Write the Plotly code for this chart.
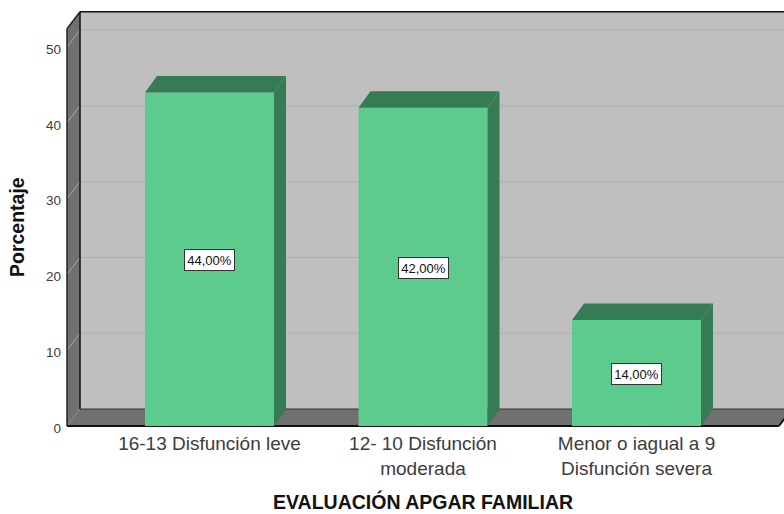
import plotly.graph_objects as go

categories = ["16-13 Disfunción leve", "12- 10 Disfunción<br>moderada", "Menor o iagual a 9<br>Disfunción severa"]
values = [44, 42, 14]
y_ticks = [0, 10, 20, 30, 40, 50]
x_title = "EVALUACIÓN APGAR FAMILIAR"
y_title = "Porcentaje"

W, H = 784, 514
PX_X, PX_Y = 213.5, 7.58      # pixels per category / per percentage point
L, T, B = 65, 10, 84
BASE_PX = 426
C0_PX = 209.5
BAR_W = 129 / PX_X
WALL_DX, WALL_DY = 13 / PX_X, 17 / PX_Y
BAR_DX, BAR_DY = 12 / PX_X, 16.5 / PX_Y
X0, X1 = -0.6674, 2.667
XLOW, XHIGH = (L - C0_PX) / PX_X, (W - C0_PX) / PX_X
YLOW, YHIGH = -(H - B - BASE_PX) / PX_Y, (BASE_PX - T) / PX_Y
YTOP = 52.4

WALL_BACK = "#BFBFBF"
WALL_DARK = "#707070"
GRID_BACK = "#B0B0B0"
GRID_SIDE = "#A6A6A6"
BAR_FRONT = "#5CCB8D"
BAR_SIDE = "#377B54"
TEXT_GREY = "#3C3C3C"


def poly(points, color, line=None, width=0):
    path = "M " + " L ".join(f"{x},{y}" for x, y in points) + " Z"
    return dict(type="path", path=path, xref="x", yref="y", layer="below", fillcolor=color,
                line=dict(color=line or color, width=width))


def seg(x0, y0, x1, y1, color, width=1):
    return dict(type="line", x0=x0, y0=y0, x1=x1, y1=y1, xref="x", yref="y", layer="below",
                line=dict(color=color, width=width))


shapes = [
    poly([(X0 + WALL_DX, WALL_DY), (XHIGH + 0.1, WALL_DY), (XHIGH + 0.1, YTOP + WALL_DY), (X0 + WALL_DX, YTOP + WALL_DY)], WALL_BACK),
    poly([(X0, 0), (X0 + WALL_DX, WALL_DY), (X0 + WALL_DX, YTOP + WALL_DY), (X0, YTOP)], WALL_DARK),
    poly([(X0, 0), (X1, 0), (X1 + WALL_DX, WALL_DY), (X0 + WALL_DX, WALL_DY)], WALL_DARK),
]
for t in y_ticks[1:]:
    shapes.append(seg(X0 + WALL_DX, t + WALL_DY, XHIGH + 0.1, t + WALL_DY, GRID_BACK))
    shapes.append(seg(X0, t, X0 + WALL_DX, t + WALL_DY, GRID_SIDE))
shapes += [
    seg(X0 + WALL_DX, WALL_DY, X0 + WALL_DX, YTOP + WALL_DY, "#111111", 1.5),
    seg(X0 + WALL_DX, YTOP + WALL_DY, XHIGH + 0.1, YTOP + WALL_DY, "#111111", 1.5),
    seg(X0 + WALL_DX, WALL_DY, XHIGH + 0.1, WALL_DY, "#333333", 1),
    seg(X0, 0, X0, YTOP, "#222222", 1.5),
    seg(X0, YTOP, X0 + WALL_DX, YTOP + WALL_DY, "#222222", 1.5),
    seg(X0, 0, X1, 0, "#111111", 2),
    seg(X1, 0, X1 + WALL_DX, WALL_DY, "#111111", 2),
]

fig = go.Figure()
xs = list(range(len(values)))
fig.add_trace(go.Bar(x=xs, y=values, width=BAR_W, marker=dict(color=BAR_FRONT, line=dict(width=0)),
                     showlegend=False, hoverinfo="skip"))

for i, v in zip(xs, values):
    left, right = i - BAR_W / 2, i + BAR_W / 2
    fig.add_trace(go.Scatter(
        x=[right, right + BAR_DX, right + BAR_DX, right, right],
        y=[0, BAR_DY, v + BAR_DY, v, 0],
        mode="lines", fill="toself", fillcolor=BAR_SIDE, line=dict(width=0),
        showlegend=False, hoverinfo="skip"))
    fig.add_trace(go.Scatter(
        x=[left, left + BAR_DX, right + BAR_DX, right, left],
        y=[v, v + BAR_DY, v + BAR_DY, v, v],
        mode="lines", fill="toself", fillcolor=BAR_SIDE, line=dict(width=0),
        showlegend=False, hoverinfo="skip"))

annotations = [
    dict(x=i, y=v / 2, xref="x", yref="y", yshift=-1, text=f"{v:.2f}".replace(".", ",") + "%", showarrow=False,
         font=dict(family="Liberation Sans", size=13, color="#111111"), width=47, height=18,
         bgcolor="#FFFFFF", bordercolor="#333333", borderwidth=1, borderpad=1)
    for i, v in zip(xs, values)
]
plot_w, plot_h = W - L, H - T - B
annotations += [
    dict(x=(423 - L) / plot_w, y=(H - B - 501.5) / plot_h, xref="paper", yref="paper", text=f"<b>{x_title}</b>",
         showarrow=False, font=dict(family="Liberation Sans", size=19.5, color="#111111"),
         xanchor="center", yanchor="middle"),
    dict(x=(17 - L) / plot_w, y=(H - B - 227) / plot_h, xref="paper", yref="paper", text=f"<b>{y_title}</b>",
         showarrow=False, textangle=-90, font=dict(family="Liberation Sans", size=19.5, color="#111111"),
         xanchor="center", yanchor="middle"),
]

fig.update_layout(
    width=W, height=H, margin=dict(l=L, r=0, t=T, b=B, pad=0, autoexpand=False),
    paper_bgcolor="#FFFFFF", plot_bgcolor="#FFFFFF", showlegend=False,
    shapes=shapes, annotations=annotations,
    xaxis=dict(range=[XLOW, XHIGH], tickmode="array", tickvals=xs, ticktext=categories, showgrid=False,
               zeroline=False, showline=False, ticks="", tickfont=dict(family="Liberation Sans", size=19, color=TEXT_GREY)),
    yaxis=dict(range=[YLOW, YHIGH], tickmode="array", tickvals=y_ticks, showgrid=False, zeroline=False,
               showline=False, ticks="", ticklabelstandoff=3, ticklabelshift=2,
               tickfont=dict(family="Liberation Sans", size=13.5, color=TEXT_GREY)),
)
fig.write_html("out.html", config={"displayModeBar": False},
               post_script="document.body.style.margin='0';document.documentElement.style.overflow='hidden';")
